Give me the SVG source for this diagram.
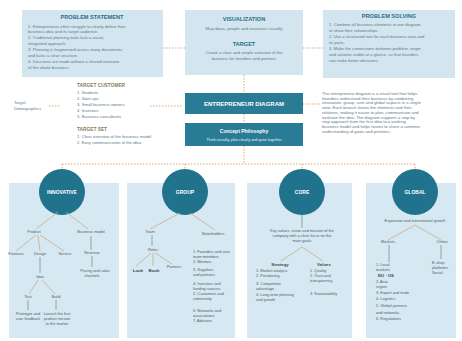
<svg xmlns="http://www.w3.org/2000/svg" width="462" height="341" viewBox="0 0 462 341">
<style>
text{font-family:"Liberation Sans",Arial,sans-serif}
.box{fill:#d3e5ef}
.panel{fill:#d6e8f2}
.dark{fill:#2a7b95}
.circ{fill:#20728d}
.ttl{font-size:5.6px;font-weight:bold;fill:#2a6f88;text-anchor:middle}
.t{font-size:4.2px;fill:#5b7a88}
.tc{font-size:4.2px;fill:#5b7a88;text-anchor:middle}
.lt{font-size:4.8px;font-weight:bold;fill:#8a7a5a}
.wt{font-size:6px;font-weight:bold;fill:#ffffff;text-anchor:middle}
.ws{font-size:3.8px;fill:#e6f2f6;text-anchor:middle}
.ct{font-size:5px;font-weight:bold;fill:#ffffff;text-anchor:middle}
.p{font-size:3.9px;fill:#4e5e66}
.pc{font-size:3.9px;fill:#4e5e66;text-anchor:middle}
.pb{font-size:4.4px;font-weight:bold;fill:#3c4c54;text-anchor:middle}
.dot{stroke:#e2a56c;stroke-width:1;stroke-dasharray:1.5 1.5;fill:none}
.tree{stroke:#c9ae84;stroke-width:0.8;fill:none}
.vl{stroke:#7d8f97;stroke-width:0.8;fill:none}
</style>
<rect width="462" height="341" fill="#ffffff"/>

<g id="connectors">
<line class="dot" x1="163" y1="48" x2="185" y2="48"/>
<line class="dot" x1="303" y1="48" x2="323" y2="48"/>
<line class="dot" x1="244" y1="75" x2="244" y2="93"/>
<line class="dot" x1="244" y1="114" x2="244" y2="123"/>
<line class="dot" x1="244" y1="146" x2="244" y2="164"/>
<line class="dot" x1="49" y1="106" x2="60" y2="106"/>
<line class="dot" x1="150" y1="106" x2="183" y2="106"/>
<line class="dot" x1="303" y1="104" x2="320" y2="104"/>
<line class="dot" x1="62" y1="164" x2="416" y2="164"/>
<line class="dot" x1="62" y1="164" x2="62" y2="170"/>
<line class="dot" x1="185" y1="164" x2="185" y2="170"/>
<line class="dot" x1="302" y1="164" x2="302" y2="170"/>
<line class="dot" x1="415" y1="164" x2="415" y2="170"/>
</g>

<g id="problem-statement">
<rect class="box" x="22" y="10" width="141" height="67"/>
<text class="ttl" x="92" y="19">PROBLEM STATEMENT</text>
<text class="t" x="28" y="28">1. Entrepreneurs often struggle to clearly define their</text>
<text class="t" x="28" y="33">    business idea and its target audience.</text>
<text class="t" x="28" y="39">2. Traditional planning tools lack a visual,</text>
<text class="t" x="28" y="45">    integrated approach.</text>
<text class="t" x="28" y="51">3. Planning is fragmented across many documents</text>
<text class="t" x="28" y="57">    and lacks a clear structure.</text>
<text class="t" x="28" y="63">4. Decisions are made without a shared overview</text>
<text class="t" x="28" y="69">    of the whole business.</text>
</g>

<g id="visualization">
<rect class="box" x="185" y="10" width="118" height="65"/>
<text class="ttl" x="244" y="21">VISUALIZATION</text>
<text class="tc" x="244" y="30">Map ideas, people and resources visually</text>
<text class="ttl" x="244" y="46">TARGET</text>
<text class="tc" x="244" y="54">Create a clear and simple overview of the</text>
<text class="tc" x="244" y="60">business for founders and partners</text>
</g>

<g id="problem-solving">
<rect class="box" x="323" y="10" width="132" height="68"/>
<text class="ttl" x="389" y="18">PROBLEM SOLVING</text>
<text class="t" x="329" y="26">1. Combine all business elements in one diagram</text>
<text class="t" x="329" y="32">    to show their relationships.</text>
<text class="t" x="329" y="38">2. Use a structured tree for each business area and</text>
<text class="t" x="329" y="44">    its parts.</text>
<text class="t" x="329" y="50">3. Make the connections between problem, target</text>
<text class="t" x="329" y="56">    and solution visible at a glance, so that founders</text>
<text class="t" x="329" y="62">    can make better decisions.</text>
</g>

<g id="target-customer">
<text class="lt" x="77" y="87">TARGET CUSTOMER</text>
<text class="t" x="77" y="94">1. Students</text>
<text class="t" x="77" y="100">2. Start-ups</text>
<text class="t" x="77" y="106">3. Small business owners</text>
<text class="t" x="77" y="112">4. Investors</text>
<text class="t" x="77" y="118">5. Business consultants</text>
<text class="lt" x="77" y="131">TARGET SET</text>
<text class="t" x="77" y="138">1. Clear overview of the business model</text>
<text class="t" x="77" y="144">2. Easy communication of the idea</text>
</g>

<g id="demographics">
<text class="t" x="14" y="104">Target</text>
<text class="t" x="14" y="110">Demographics</text>
</g>

<g id="entrepreneur-diagram">
<rect class="dark" x="185" y="93" width="118" height="21"/>
<text class="wt" x="244" y="105.5">ENTREPRENEUR DIAGRAM</text>
</g>

<g id="concept-philosophy">
<rect class="dark" x="185" y="123" width="118" height="23"/>
<text class="ct" x="244" y="133">Concept Philosophy</text>
<text class="ws" x="244" y="141">Think visually, plan clearly and grow together</text>
</g>

<g id="description">
<text class="t" x="322" y="95">The entrepreneur diagram is a visual tool that helps</text>
<text class="t" x="322" y="99.7">founders understand their business by combining</text>
<text class="t" x="322" y="104.4">innovation, group, core and global aspects in a single</text>
<text class="t" x="322" y="109.1">view. Each branch shows the elements and their</text>
<text class="t" x="322" y="113.8">relations, making it easier to plan, communicate and</text>
<text class="t" x="322" y="118.5">evaluate the idea. The diagram supports a step by</text>
<text class="t" x="322" y="123.2">step approach from the first idea to a working</text>
<text class="t" x="322" y="127.9">business model and helps teams to share a common</text>
<text class="t" x="322" y="132.6">understanding of goals and priorities.</text>
</g>

<g id="innovative">
<rect class="panel" x="9" y="183" width="110" height="155"/>
<circle class="circ" cx="62" cy="192" r="23"/>
<text class="ct" x="62" y="194">INNOVATIVE</text>
<path class="tree" d="M58 212 L36 229 M66 212 L88 229"/>
<text class="pc" x="34" y="233">Product</text>
<text class="pc" x="91" y="233">Business model</text>
<path class="tree" d="M36 235 L16 251 M38 235 L40 251 M40 235 L64 251"/>
<text class="pc" x="16" y="255">Features</text>
<text class="pc" x="40" y="255">Design</text>
<text class="pc" x="65" y="255">Service</text>
<path class="vl" d="M40 257 L40 273"/>
<text class="pc" x="40" y="278">Idea</text>
<path class="tree" d="M38 280 L29 294 M42 280 L55 294"/>
<text class="pc" x="28" y="298">Test</text>
<text class="pc" x="56" y="298">Build</text>
<path class="vl" d="M28 300 L28 310 M56 300 L56 310"/>
<text class="pc" x="28" y="315">Prototype and</text>
<text class="pc" x="28" y="320">user feedback</text>
<text class="pc" x="57" y="315">Launch the first</text>
<text class="pc" x="57" y="320">product version</text>
<text class="pc" x="57" y="325">to the market</text>
<path class="vl" d="M91 236 L91 250"/>
<text class="pc" x="92" y="254">Revenue</text>
<path class="vl" d="M92 256 L92 267"/>
<text class="pc" x="95" y="272">Pricing and sales</text>
<text class="pc" x="92" y="277">channels</text>
</g>

<g id="group">
<rect class="panel" x="127" y="183" width="108" height="155"/>
<circle class="circ" cx="185" cy="192" r="23"/>
<text class="ct" x="185" y="194">GROUP</text>
<path class="tree" d="M180 213 L150 229 M190 213 L215 230"/>
<text class="pc" x="150" y="233">Team</text>
<path class="vl" d="M152 235 L152 246"/>
<text class="pc" x="153" y="251">Roles</text>
<path class="tree" d="M151 253 L136 266 M153 253 L153 266 M155 253 L172 264"/>
<text class="pb" x="138" y="272">Look</text>
<text class="pb" x="154" y="272">Book</text>
<text class="pc" x="174" y="268">Partners</text>
<text class="pc" x="213" y="235">Stakeholders</text>
<text class="p" x="193" y="253">1. Founders and core</text>
<text class="p" x="193" y="258">    team members</text>
<text class="p" x="193" y="263">2. Mentors</text>
<text class="p" x="193" y="271">3. Suppliers</text>
<text class="p" x="193" y="276">    and partners</text>
<text class="p" x="193" y="285">4. Investors and</text>
<text class="p" x="193" y="290">    funding sources</text>
<text class="p" x="193" y="295">5. Customers and</text>
<text class="p" x="193" y="300">    community</text>
<text class="p" x="193" y="312">6. Networks and</text>
<text class="p" x="193" y="317">    associations</text>
<text class="p" x="193" y="322">7. Advisors</text>
</g>

<g id="core">
<rect class="panel" x="247" y="183" width="105" height="155"/>
<circle class="circ" cx="302" cy="192" r="23"/>
<text class="ct" x="302" y="194">CORE</text>
<path class="vl" d="M302 215 L302 228"/>
<text class="pc" x="302" y="232">Key values, vision and mission of the</text>
<text class="pc" x="302" y="237">company with a clear focus on the</text>
<text class="pc" x="302" y="242">main goals</text>
<path class="tree" d="M302 247 L281 261 M302 247 L323 261"/>
<text class="pb" x="280" y="266">Strategy</text>
<text class="pb" x="324" y="266">Values</text>
<text class="p" x="256" y="272">1. Market analysis</text>
<text class="p" x="256" y="277">2. Positioning</text>
<text class="p" x="256" y="285">3. Competitive</text>
<text class="p" x="256" y="290">    advantage</text>
<text class="p" x="256" y="296">4. Long-term planning</text>
<text class="p" x="256" y="301">    and growth</text>
<text class="p" x="310" y="272">1. Quality</text>
<text class="p" x="310" y="277">2. Trust and</text>
<text class="p" x="310" y="282">    transparency</text>
<text class="p" x="310" y="295">3. Sustainability</text>
</g>

<g id="global">
<rect class="panel" x="366" y="183" width="90" height="155"/>
<circle class="circ" cx="415" cy="192" r="23"/>
<text class="ct" x="415" y="194">GLOBAL</text>
<text class="pc" x="415" y="222">Expansion and international growth</text>
<path class="tree" d="M415 225 L388 240 M415 225 L441 240"/>
<text class="pc" x="388" y="243">Markets</text>
<text class="pc" x="442" y="243">Online</text>
<path class="vl" d="M389 245 L389 262 M441 245 L441 259"/>
<text class="p" x="376" y="266">1. Local</text>
<text class="p" x="376" y="271">    markets</text>
<text class="pb" x="386" y="277">EU · US</text>
<text class="p" x="376" y="283">2. Asia</text>
<text class="p" x="376" y="288">    region</text>
<text class="p" x="376" y="294">3. Export and trade</text>
<text class="p" x="376" y="300">4. Logistics</text>
<text class="p" x="376" y="307">5. Global partners</text>
<text class="p" x="376" y="314">    and networks</text>
<text class="p" x="376" y="320">6. Regulations</text>
<text class="p" x="432" y="264">E-shop</text>
<text class="p" x="432" y="269">platforms</text>
<text class="p" x="432" y="274">Social</text>
</g>
</svg>
